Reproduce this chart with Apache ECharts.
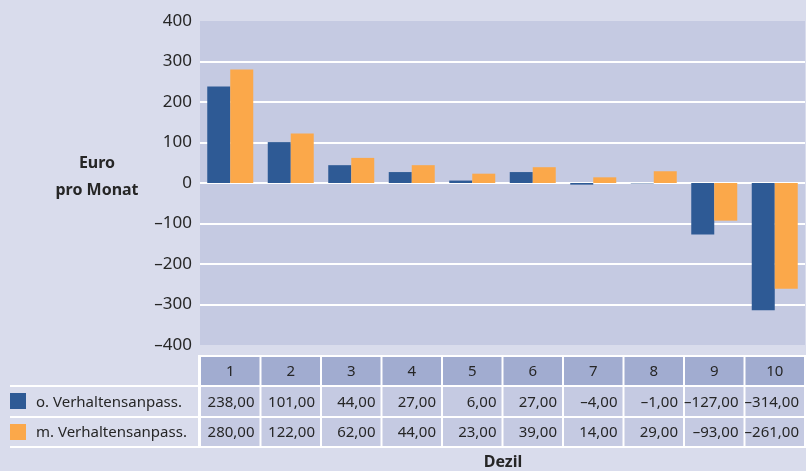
<!DOCTYPE html>
<html lang="de">
<head>
<meta charset="UTF-8">
<title>Dezil</title>
<script src="https://cdn.jsdelivr.net/npm/echarts@6/dist/echarts.min.js"></script>
<style>html,body{margin:0;padding:0;background:#d9dcec;}</style>
</head>
<body>
<div id="main" style="width:806px;height:471px;"></div>
<script type="text/javascript">
// Daten
var dezile = ['1', '2', '3', '4', '5', '6', '7', '8', '9', '10'];
var ohneAnpassung = [238, 101, 44, 27, 6, 27, -4, -1, -127, -314];
var mitAnpassung = [280, 122, 62, 44, 23, 39, 14, 29, -93, -261];
var reihenNamen = ['o. Verhaltensanpass.', 'm. Verhaltensanpass.'];

var blau = '#2e5a95', orange = '#fba84a';
var schrift = '"Noto Sans", sans-serif';
var textFarbe = '#262626';

function zahlFmt(v) { return (v < 0 ? '\u2013' : '') + Math.abs(v).toFixed(2).replace('.', ','); }

var myChart = echarts.init(document.getElementById('main'));

myChart.setOption({
    backgroundColor: '#d9dcec',
    animation: false,
    textStyle: { fontFamily: schrift },
    grid: {
        left: 200, right: 1, top: 21, bottom: 126,
        show: true, backgroundColor: '#c5cae2', borderWidth: 0
    },
    xAxis: {
        type: 'category',
        data: dezile,
        axisLine: { show: false },
        axisTick: { show: false },
        axisLabel: { show: false }
    },
    yAxis: {
        type: 'value',
        min: -400, max: 400, interval: 100,
        axisLine: { show: false },
        axisTick: { show: false },
        axisLabel: {
            margin: 8, fontSize: 17, color: textFarbe, fontFamily: schrift,
            formatter: function (v) { return v < 0 ? '\u2013' + (-v) : String(v); }
        },
        splitLine: { show: true, showMinLine: false, showMaxLine: false,
                     lineStyle: { color: '#ffffff', width: 2 } }
    },
    series: [
        { name: reihenNamen[0], type: 'bar', data: ohneAnpassung, barWidth: 23, barGap: '0%',
          itemStyle: { color: blau } },
        { name: reihenNamen[1], type: 'bar', data: mitAnpassung, barWidth: 23, barGap: '0%',
          itemStyle: { color: orange } }
    ]
});

// Tabelle unter dem Diagramm
var band = myChart.convertToPixel({ xAxisIndex: 0 }, dezile[1]) - myChart.convertToPixel({ xAxisIndex: 0 }, dezile[0]);
var zeilen = [{ y: 357, h: 28 }, { y: 387, h: 29 }, { y: 418, h: 28 }];
var els = [];

// weisser Hintergrund fuer Zellraender
els.push({ type: 'rect', shape: { x: 198, y: 355, width: 608, height: 93 }, style: { fill: '#ffffff' }, silent: true });
// Linien in der Beschriftungsspalte
[385, 416, 446].forEach(function (y) {
    els.push({ type: 'rect', shape: { x: 10, y: y, width: 190, height: 2 }, style: { fill: '#ffffff' }, silent: true });
});

dezile.forEach(function (d, i) {
    var c = myChart.convertToPixel({ xAxisIndex: 0 }, d);
    var x0 = c - band / 2 + 1, x1 = c + band / 2 - 1;
    // Kopfzeile
    els.push({ type: 'rect', shape: { x: x0, y: zeilen[0].y, width: x1 - x0, height: zeilen[0].h }, style: { fill: '#a1acd0' }, silent: true });
    els.push({ type: 'text', x: c, y: zeilen[0].y + zeilen[0].h / 2 + 1,
        style: { text: d, fill: textFarbe, font: '15px ' + schrift, align: 'center', verticalAlign: 'middle' } });
    [ohneAnpassung, mitAnpassung].forEach(function (reihe, r) {
        var z = zeilen[r + 1];
        els.push({ type: 'rect', shape: { x: x0, y: z.y, width: x1 - x0, height: z.h }, style: { fill: '#c5cae2' }, silent: true });
        els.push({ type: 'text', x: x1 - 5, y: z.y + z.h / 2 + 1,
            style: { text: zahlFmt(reihe[i]), fill: textFarbe, font: '15px ' + schrift, align: 'right', verticalAlign: 'middle' } });
    });
});

// Legende in der Tabelle
[blau, orange].forEach(function (farbe, r) {
    var z = zeilen[r + 1];
    els.push({ type: 'rect', shape: { x: 10, y: z.y + 6, width: 16, height: 16 }, style: { fill: farbe } });
    els.push({ type: 'text', x: 36, y: z.y + z.h / 2 + 1,
        style: { text: reihenNamen[r], fill: textFarbe, font: '15px ' + schrift, align: 'left', verticalAlign: 'middle' } });
});

// Achsentitel
els.push({ type: 'text', x: 97, y: 163,
    style: { text: 'Euro', fill: textFarbe, font: 'bold 16px ' + schrift, align: 'center', verticalAlign: 'middle' } });
els.push({ type: 'text', x: 97, y: 190,
    style: { text: 'pro Monat', fill: textFarbe, font: 'bold 16px ' + schrift, align: 'center', verticalAlign: 'middle' } });
els.push({ type: 'text', x: 503, y: 462,
    style: { text: 'Dezil', fill: textFarbe, font: 'bold 16px ' + schrift, align: 'center', verticalAlign: 'middle' } });

myChart.setOption({ graphic: { elements: els } });
</script>
</body>
</html>
